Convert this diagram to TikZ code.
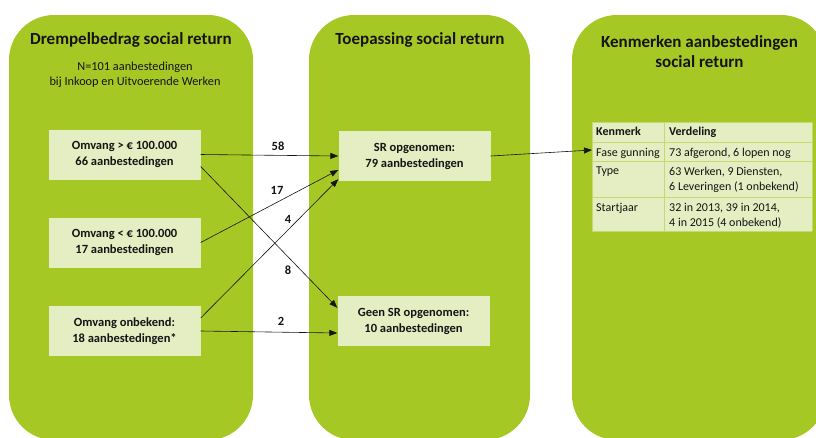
\documentclass[tikz,border=0pt]{standalone}
\usepackage{fontspec}
\setmainfont{Carlito}
\usetikzlibrary{arrows.meta}
\definecolor{panelgreen}{RGB}{166,200,36}
\definecolor{boxgreen}{RGB}{229,238,194}
\definecolor{gridgreen}{RGB}{196,218,112}
\definecolor{inkblack}{RGB}{20,20,20}

\tikzset{
  panel/.style={fill=panelgreen, rounded corners=45pt},
  title/.style={font=\fontsize{17}{20}\selectfont\bfseries, text=inkblack, align=center},
  flowbox/.style={fill=boxgreen, minimum width=152pt, minimum height=50pt, inner sep=0pt,
    align=center, text=inkblack, font=\fontsize{12.5}{16}\selectfont\bfseries},
  flow/.style={-{Triangle[length=8pt,width=6pt]}, line width=0.6pt, inkblack},
  count/.style={font=\fontsize{12.5}{14}\selectfont\bfseries, text=inkblack},
  cell/.style={anchor=north west, inner sep=0pt, align=left, text=inkblack,
    font=\fontsize{12}{15}\selectfont}
}

\begin{document}
\begin{tikzpicture}[x=1pt,y=-1pt]
\useasboundingbox (0,0) rectangle (816,437);
\begin{scope}
\clip (0,0) rectangle (816,437);
\fill[panel] (9,15) rectangle (253,440);
\fill[panel] (309,15) rectangle (530,440);
\fill[panel] (572,15) rectangle (826,440);
\end{scope}

% titles
\node[title] (drempel) at (131,40) {Drempelbedrag social return};
\node[align=center, text=inkblack, font=\fontsize{12.3}{15}\selectfont] (totaal) at (135,74.5)
  {N=101 aanbestedingen\\bij Inkoop en Uitvoerende Werken};
\node[title] (toepassing) at (420,40) {Toepassing social return};
\node[title] (kenmerken) at (699.5,52) {Kenmerken aanbestedingen\\social return};

% boxes
\node[flowbox] (boven) at (124.5,154.5) {Omvang > € 100.000\\66 aanbestedingen};
\node[flowbox] (onder) at (124.5,242.5) {Omvang < € 100.000\\17 aanbestedingen};
\node[flowbox] (onbekend) at (124.5,331) {Omvang onbekend:\\18 aanbestedingen*};
\node[flowbox] (sr) at (414.5,156) {SR opgenomen:\\79 aanbestedingen};
\node[flowbox] (geensr) at (413.5,321) {Geen SR opgenomen:\\10 aanbestedingen};

% table
\fill[boxgreen] (592,122) rectangle (812,231);
\foreach \y in {122,142,161,197,231}
  \draw[gridgreen, line width=1pt] (592,\y) -- (812,\y);
\foreach \x in {592,664,812}
  \draw[gridgreen, line width=1pt] (\x,122) -- (\x,231);
\coordinate (fase) at (592,150);
\node[cell] (kop1) at (596,127) {\bfseries Kenmerk};
\node[cell] (kop2) at (669,127) {\bfseries Verdeling};
\node[cell] (rij1) at (596,148) {Fase gunning};
\node[cell] (waarde1) at (669,148) {73 afgerond, 6 lopen nog};
\node[cell] (rij2) at (596,167) {Type};
\node[cell] (waarde2) at (669,167) {63 Werken, 9 Diensten,\\6 Leveringen (1 onbekend)};
\node[cell] (rij3) at (596,203) {Startjaar};
\node[cell] (waarde3) at (669,203) {32 in 2013, 39 in 2014,\\4 in 2015 (4 onbekend)};

% connectors
\draw[flow] (boven.east) -- (sr.west);
\draw[flow] ([yshift=-12pt]boven.east) -- ([yshift=-12pt]geensr.north west);
\draw[flow] (onder.east) -- ([yshift=-14pt]sr.west);
\draw[flow] ([yshift=13pt]onbekend.east) -- ([yshift=2pt]sr.south west);
\draw[flow] (onbekend.east) -- ([yshift=-12pt]geensr.west);
\draw[flow] (sr.east) -- (fase);

% counts
\node[count] (n58) at (278,146) {58};
\node[count] (n17) at (277,190) {17};
\node[count] (n4) at (288,219) {4};
\node[count] (n8) at (288,270) {8};
\node[count] (n2) at (281,321) {2};
\end{tikzpicture}
\end{document}
